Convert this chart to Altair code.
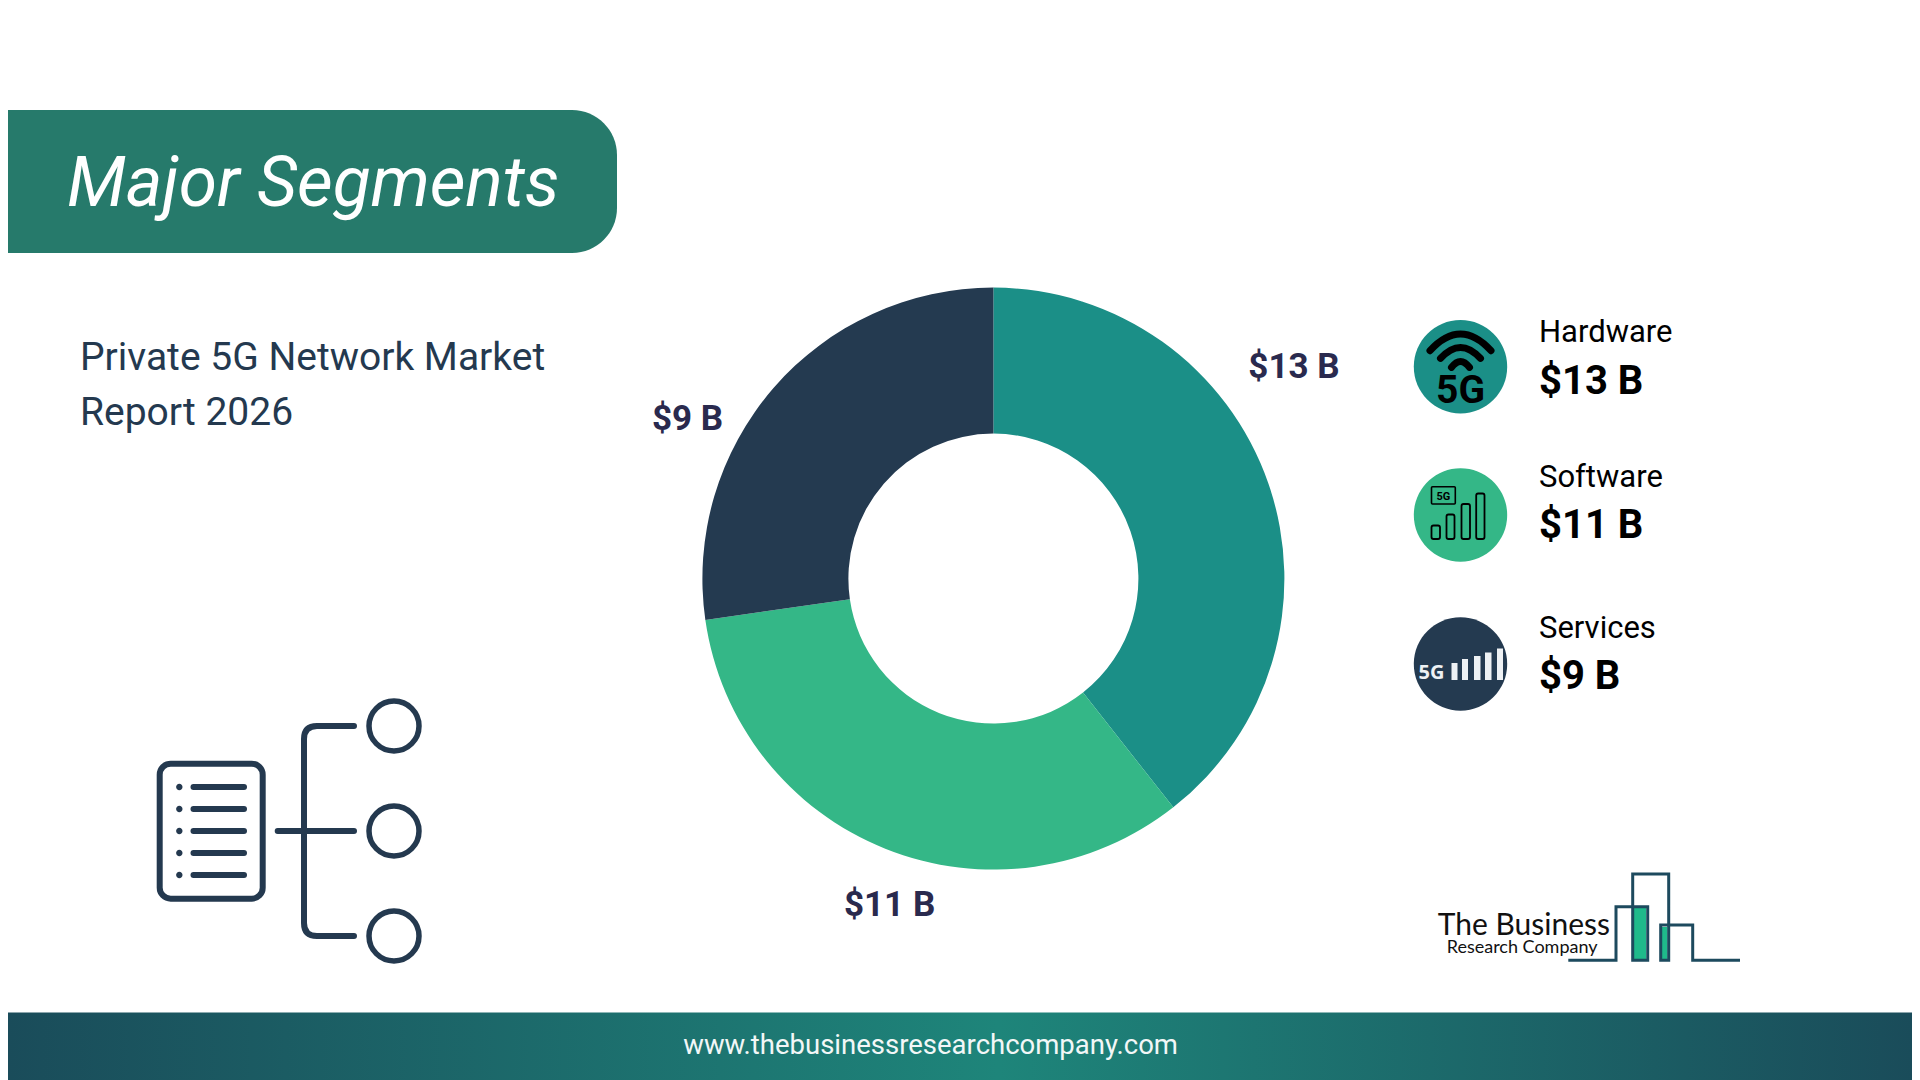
import altair as alt
import pandas as pd

# ---- chart values ----
segments = ["Hardware", "Software", "Services"]
values = [13, 11, 9]
seg_colors = ["#1b8f87", "#34b787", "#243a50"]
donut_labels = ["$13 B", "$11 B", "$9 B"]
donut_label_x = [1294, 889.6, 687.6]
donut_label_y = [378, 916, 430]

row_value_text = ["$13 B", "$11 B", "$9 B"]
row_name_y = [342, 487, 638]
row_value_y = [394, 538, 689]
row_icon_y = [366.7, 515, 664]

title_text = "Major Segments"
sub_lines = ["Private 5G Network Market", "Report 2026"]
sub_y = [370, 425]
footer_text = "www.thebusinessresearchcompany.com"

INK = "#24394f"
SX = alt.Scale(domain=[8, 1912], range=[0, 1904], nice=False, zero=False)
SY = alt.Scale(domain=[8, 1080], range=[0, 1072], nice=False, zero=False)


def X(f="x"):
    return alt.X(f"{f}:Q", scale=SX, axis=None)


def Y(f="y"):
    return alt.Y(f"{f}:Q", scale=SY, axis=None)


def texts(xs, ys, labels, **mark):
    df = pd.DataFrame({"x": xs, "y": ys, "t": labels})
    mark.setdefault("font", "Roboto")
    mark.setdefault("baseline", "alphabetic")
    mark.setdefault("align", "left")
    return alt.Chart(df).mark_text(**mark).encode(x=X(), y=Y(), text="t:N")


def rects(x1, x2, y1, y2, **mark):
    df = pd.DataFrame({"x": x1, "x2": x2, "y": y1, "y2": y2})
    return alt.Chart(df).mark_rect(**mark).encode(x=X(), x2="x2:Q", y=Y(), y2="y2:Q")


def rules(x1, x2, y1, y2, **mark):
    df = pd.DataFrame({"x": x1, "x2": x2, "y": y1, "y2": y2})
    return alt.Chart(df).mark_rule(**mark).encode(x=X(), x2="x2:Q", y=Y(), y2="y2:Q")


def glyph(xs, ys, path, **mark):
    df = pd.DataFrame({"x": xs, "y": ys})
    mark.setdefault("filled", False)
    mark.setdefault("opacity", 1)
    return alt.Chart(df).mark_point(shape=path, size=4, **mark).encode(x=X(), y=Y())


def disc(xs, ys, r, color):
    path = f"M{-r},0 A{r},{r} 0 1,1 {r},0 A{r},{r} 0 1,1 {-r},0 Z"
    return glyph(xs, ys, path, filled=True, fill=color, strokeWidth=0)


# ---- banner, title, subtitle ----
banner = rects([8], [617], [110], [253], color="#267a6b",
               cornerRadiusTopRight=45, cornerRadiusBottomRight=45)
title = texts([67], [206], [title_text], fontSize=69.5, fontStyle="italic",
              fontWeight=400, color="white")
subtitle = texts([80, 80], sub_y, sub_lines, fontSize=39, color=INK)

# ---- donut ----
donut_df = pd.DataFrame({"segment": segments, "value": values, "ord": [0, 1, 2]})
donut = alt.Chart(donut_df).mark_arc(outerRadius=291, innerRadius=145).encode(
    theta=alt.Theta("value:Q", stack=True),
    order=alt.Order("ord:Q"),
    color=alt.Color("segment:N", legend=None,
                    scale=alt.Scale(domain=segments, range=seg_colors)),
    x=alt.value(993.4 - 8),
    y=alt.value(578.6 - 8),
)
dl = texts(donut_label_x, donut_label_y, donut_labels, fontSize=35,
           fontWeight=700, color="#2a2a4e", align="center")

# ---- right-hand rows ----
discs = [disc([1460.5], [row_icon_y[i]], 46.7, seg_colors[i]) for i in range(3)]
names = texts([1539] * 3, row_name_y, segments, fontSize=31, color="black")
amounts = texts([1539] * 3, row_value_y, row_value_text, fontSize=40,
                fontWeight=700, color="black")

wifi = glyph([1460.5], [366.7],
             "M-30.5,-16 Q0,-49.3 30.5,-16 M-20,-8.3 Q0,-30.3 20,-8.3 M-9,0.7 Q0,-11.3 9,0.7",
             stroke="black", strokeWidth=7, strokeCap="round")
wifi_5g = texts([1460.5], [403], ["5G"], fontSize=39,
                fontWeight=700, color="black", align="center")

sw_box = rects([1431.5], [1455.3], [486.7], [504], fill="transparent", stroke="black",
               strokeWidth=1.6, cornerRadius=1)
sw_5g = texts([1443.4], [499.5], ["5G"], fontSize=11, fontWeight=700, color="black",
              align="center")
sw_bars = rects([1431.5, 1446.5, 1461.5, 1476.2], [1440, 1454.5, 1470, 1484.5],
                [525.5, 514.5, 504, 493.5], [539] * 4,
                fill="transparent", stroke="black", strokeWidth=1.8, cornerRadius=2)

sv_5g = texts([1431.5], [679], ["5G"], font="Open Sans", fontSize=20, fontWeight=700,
              color="#eef1f4", align="center")
sv_bars = rects([1451.5, 1462, 1474, 1485, 1497], [1457.5, 1468, 1480.5, 1491.5, 1503],
                [663, 659, 656, 652.5, 648.5], [680] * 5, color="#eef1f4")

# ---- tree icon ----
doc = rects([159.7], [262.7], [763.7], [898.7], fill="transparent", stroke=INK,
            strokeWidth=6, cornerRadius=11)
list_y = [787, 809, 831, 853, 875]
bullets = disc([179.3] * 5, list_y, 3.2, INK)
list_lines = rules([193.5] * 5, [244] * 5, list_y, list_y, color=INK, strokeWidth=6,
                   strokeCap="round")
stem = rules([277.7], [354], [831], [831], color=INK, strokeWidth=6, strokeCap="round")
bracket = glyph([304], [831],
                "M50,-105 L13,-105 Q0,-105 0,-92 L0,92 Q0,105 13,105 L50,105",
                stroke=INK, strokeWidth=6, strokeCap="round")
node_path = "M-25,0 A25,25 0 1,1 25,0 A25,25 0 1,1 -25,0 Z"
nodes = glyph([394] * 3, [726, 831, 936], node_path, stroke=INK, strokeWidth=5.5)

# ---- footer ----
footer = rects([8], [1912], [1012.5], [1080], color=alt.Gradient(
    gradient="linear", x1=0, x2=1, y1=0, y2=0,
    stops=[alt.GradientStop(color="#1a4c5a", offset=0),
           alt.GradientStop(color="#1e857a", offset=0.52),
           alt.GradientStop(color="#1a4c5a", offset=1)]))
foot_text = texts([930.6], [1054], [footer_text], fontSize=27.5, color="#f2f7f7",
                  align="center")

# ---- logo ----
logo_x = [1568.3, 1616, 1616, 1647.7, 1647.7, 1632.7, 1632.7, 1668.7, 1668.7, 1660.7,
          1660.7, 1692.7, 1692.7, 1740]
logo_y = [960.3, 960.3, 906.7, 906.7, 960.3, 960.3, 874, 874, 960.3, 960.3, 925, 925,
          960.3, 960.3]
logo_fill = rects([1634, 1662], [1646, 1667.5], [908, 927], [959, 959], color="#1fba8b")
logo_line = alt.Chart(pd.DataFrame({"x": logo_x, "y": logo_y, "i": range(len(logo_x))})
                      ).mark_line(color="#1d4a5e", strokeWidth=3, strokeJoin="miter"
                                  ).encode(x=X(), y=Y(), order="i:Q")
logo_t1 = texts([1437.7], [935], ["The Business"], font="Lato", fontSize=30, color="#111111")
logo_t2 = texts([1446.7], [953], ["Research Company"], font="Lato", fontSize=18,
                color="#111111")

chart = alt.layer(
    banner, title, subtitle, donut, dl, *discs, names, amounts,
    wifi, wifi_5g, sw_box, sw_5g, sw_bars, sv_5g, sv_bars,
    doc, bullets, list_lines, stem, bracket, nodes,
    footer, foot_text, logo_fill, logo_line, logo_t1, logo_t2,
).properties(
    width=1904, height=1072, padding=0,
    autosize=alt.AutoSizeParams(type="none"),
).configure(background="white").configure_view(stroke=None, strokeWidth=0)

chart.save("out.html", embed_options={"renderer": "svg", "actions": False})
